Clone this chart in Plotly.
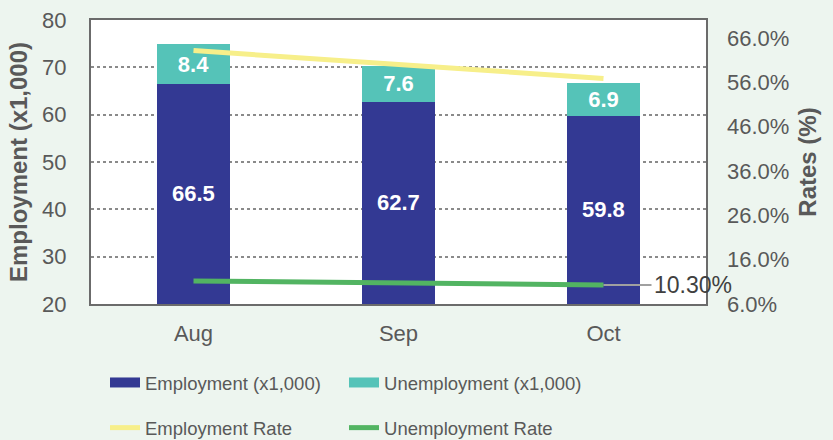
import plotly.graph_objects as go

months = ["Aug", "Sep", "Oct"]
employment = [66.5, 62.7, 59.8]
unemployment = [8.4, 7.6, 6.9]
employment_rate = [63.2, 60.0, 56.9]
unemployment_rate = [11.2, 10.8, 10.3]
left_range = [20, 80]
right_ticks = [6, 16, 26, 36, 46, 56, 66]

GREY = "#595959"
FONT = "Liberation Sans, Arial, sans-serif"
NAVY = "#333993"
TEAL = "#55C3B8"
YELLOW = "#F7EF8A"
GREEN = "#52B462"

fig = go.Figure()
fig.add_trace(go.Bar(
    x=months, y=employment, name="Employment (x1,000)",
    marker=dict(color=NAVY, line=dict(width=0)), showlegend=False,
))
fig.add_trace(go.Bar(
    x=months, y=unemployment, name="Unemployment (x1,000)",
    marker=dict(color=TEAL, line=dict(width=0)), showlegend=False,
    text=[f"{v:.1f}" for v in unemployment], textposition="inside",
    insidetextanchor="middle", textangle=0,
    textfont=dict(color="white", size=22, family=FONT, weight="bold"),
))
# legend swatches for the bar series
fig.add_trace(go.Scatter(x=[None], y=[None], mode="lines", name="Employment (x1,000)",
                         line=dict(color=NAVY, width=13), legend="legend"))
fig.add_trace(go.Scatter(x=[None], y=[None], mode="lines", name="Unemployment (x1,000)",
                         line=dict(color=TEAL, width=13), legend="legend"))

fig.add_trace(go.Scatter(
    x=months, y=employment_rate, name="Employment Rate", yaxis="y2",
    mode="lines", line=dict(color=YELLOW, width=5), legend="legend2",
))
fig.add_trace(go.Scatter(
    x=months, y=unemployment_rate, name="Unemployment Rate", yaxis="y2",
    mode="lines", line=dict(color=GREEN, width=5), legend="legend2",
))

# employment labels centred in the visible part of each bar
for m, v in zip(months, employment):
    fig.add_annotation(x=m, y=(left_range[0] + v) / 2, text=f"{v:.1f}", showarrow=False,
                       font=dict(size=22, color="white", family=FONT, weight="bold"))

fig.add_annotation(
    x=months[-1], y=unemployment_rate[-1], yref="y2",
    text=f"{unemployment_rate[-1]:.2f}%", showarrow=True, arrowhead=0,
    arrowcolor="#A0A0A0", arrowwidth=2, ax=48, ay=0, xanchor="left",
    font=dict(size=23, color="#404040", family=FONT),
)

fig.update_layout(
    width=833, height=440,
    paper_bgcolor="#EDF5EF", plot_bgcolor="white",
    margin=dict(l=91, r=127, t=20, b=136, autoexpand=False),
    barmode="stack", bargap=0.64,
    font=dict(family=FONT, color=GREY, size=18),
    showlegend=True,
    xaxis=dict(range=[-0.5, len(months) - 0.5], showline=True, linecolor="#6b6b6b",
               linewidth=2, mirror=True,
               ticks="", ticklabelstandoff=9, automargin=False,
               tickfont=dict(size=22, color=GREY)),
    yaxis=dict(range=left_range, dtick=10, showgrid=True,
               gridcolor="#8a8a8a", griddash="dot", gridwidth=1.5,
               showline=True, linecolor="#6b6b6b", linewidth=2, mirror=True,
               zeroline=False, ticks="", ticklabelstandoff=18, automargin=False,
               title=dict(text="<b>Employment (x1,000)</b>", font=dict(size=24, color=GREY), standoff=8),
               tickfont=dict(size=22, color=GREY)),
    yaxis2=dict(overlaying="y", side="right", range=[6, 70.1],
                tickvals=right_ticks, ticktext=[f"{v:.1f}%" for v in right_ticks],
                showgrid=False, zeroline=False, ticks="", ticklabelstandoff=20, automargin=False,
                title=dict(text="<b>Rates (%)</b>", font=dict(size=24, color=GREY), standoff=10),
                tickfont=dict(size=22, color=GREY)),
    legend=dict(orientation="h", x=0.0228, xanchor="left", y=-0.278, yanchor="middle",
                entrywidth=194, entrywidthmode="pixels", bgcolor="rgba(0,0,0,0)",
                font=dict(size=18.5, color=GREY), traceorder="normal"),
    legend2=dict(orientation="h", x=0.0228, xanchor="left", y=-0.437, yanchor="middle",
                 entrywidth=194, entrywidthmode="pixels", bgcolor="rgba(0,0,0,0)",
                 font=dict(size=18.5, color=GREY), traceorder="normal"),
)

fig.write_html("out.html", config={"displayModeBar": False},
               post_script="document.body.style.margin='0';")
